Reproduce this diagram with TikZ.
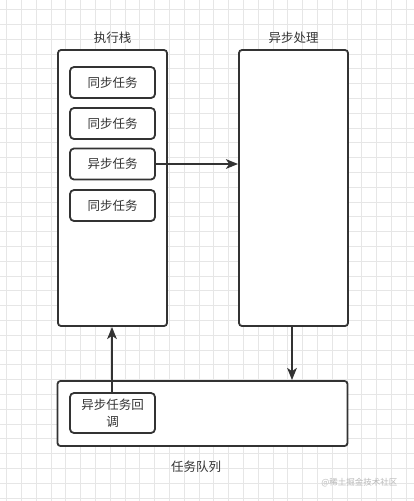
\documentclass[tikz,border=0pt]{standalone}
\usepackage{fontspec}
\setmainfont{Noto Sans CJK SC}
\usetikzlibrary{arrows.meta}
\definecolor{ink}{HTML}{333333}
\definecolor{gridc}{HTML}{E6E6E6}
\begin{document}
\begin{tikzpicture}[x=1pt,y=-1pt,
  outerbox/.style={draw=ink,line width=1.8pt,rounded corners=3pt},
  taskbox/.style={draw=ink,line width=1.8pt,rounded corners=4pt,text=ink,font=\fontsize{12.5}{16.5}\selectfont,align=center},
  lbl/.style={text=ink,font=\fontsize{12.5}{15}\selectfont},
  conn/.style={draw=ink,line width=2pt,-{Stealth[length=12pt,width=9.5pt,inset=3pt]}}]
\useasboundingbox (0,0) rectangle (414,501);
\fill[white] (0,0) rectangle (414,501);
% grid
\foreach \i in {0,...,28} \draw[gridc,line width=0.7pt] ({6.5+14.8*\i},0) -- ({6.5+14.8*\i},501);
\foreach \j in {0,...,34} \draw[gridc,line width=0.7pt] (0,{9.5+14.8*\j}) -- (414,{9.5+14.8*\j});
% outer boxes
\node[outerbox,fill=white,minimum width=109pt,minimum height=276pt,inner sep=0pt] (stack) at (112.5,188) {};
\node[outerbox,fill=white,minimum width=109pt,minimum height=276pt,inner sep=0pt] (async) at (293.5,188) {};
\node[outerbox,fill=white,minimum width=290pt,minimum height=65pt,inner sep=0pt] (queue) at (202.5,413.5) {};
% labels
\node[lbl] (lstack) at (112.5,37.5) {执行栈};
\node[lbl] (lasync) at (293.5,37.5) {异步处理};
\node[lbl] (lqueue) at (196,466.5) {任务队列};
% task boxes
\node[taskbox,minimum width=85pt,minimum height=31pt,inner sep=0pt] (t1) at (112.5,82.5) {同步任务};
\node[taskbox,minimum width=85pt,minimum height=31pt,inner sep=0pt] (t2) at (112.5,123.5) {同步任务};
\node[taskbox,minimum width=85pt,minimum height=31pt,inner sep=0pt] (t3) at (112.5,164) {异步任务};
\node[taskbox,minimum width=85pt,minimum height=31pt,inner sep=0pt] (t4) at (112.5,205.5) {同步任务};
\node[taskbox,minimum width=85pt,minimum height=40pt,inner sep=0pt,text width=80pt] (cb) at (112.5,413) {异步任务回\\调};
% connectors
\draw[conn] (t3.east) -- (async.west |- t3.east);
\draw[conn] (async.south -| 292,0) -- (queue.north -| 292,0);
\draw[conn] (cb.north -| 112,0) -- (stack.south -| 112,0);
% watermark
\node[text=gray!55,font=\fontsize{8.5}{10}\selectfont,anchor=east] (wm) at (401,482.5) {@稀土掘金技术社区};
\end{tikzpicture}
\end{document}
